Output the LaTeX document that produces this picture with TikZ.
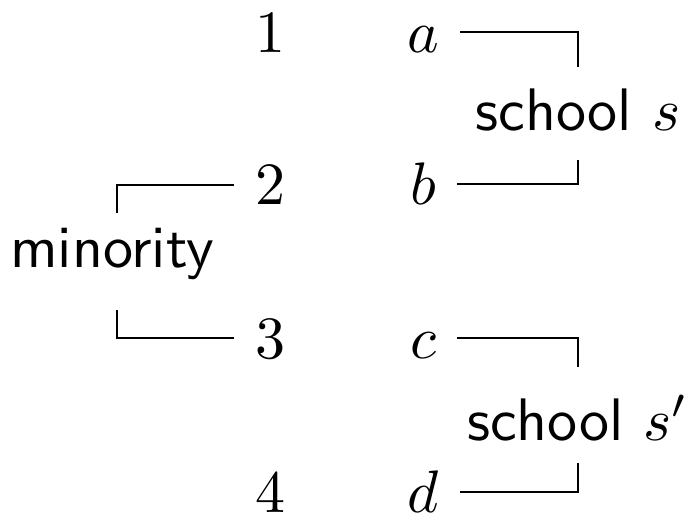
\documentclass[tikz,border=0pt]{standalone}
\begin{document}
\begin{tikzpicture}[x=1pt,y=-1pt,
  lab/.style={scale=6, anchor=base},
  conn/.style={line width=2pt, line cap=butt, line join=miter}]
\useasboundingbox (0,0) rectangle (688,517);
% numbers
\node[lab] (n1) at (270,52) {$1$};
\node[lab] (n2) at (270,204) {$2$};
\node[lab] (n3) at (270,358) {$3$};
\node[lab] (n4) at (270,512) {$4$};
% letters
\node[lab] (a) at (423,52) {$a$};
\node[lab] (b) at (423,204) {$b$};
\node[lab] (c) at (423,358) {$c$};
\node[lab] (d) at (423,512) {$d$};
% group labels
\node[lab] (s1) at (578,130) {\textsf{school} $s$};
\node[lab] (s2) at (578,440) {\textsf{school} $s'$};
\node[lab] (mi) at (112,267) {\textsf{minority}};
% corner coordinates
\coordinate (ka) at (578,32);  \coordinate (ka2) at (578,67);
\coordinate (kb) at (578,184); \coordinate (kb2) at (578,160);
\coordinate (kc) at (578,338); \coordinate (kc2) at (578,367);
\coordinate (kd) at (578,492); \coordinate (kd2) at (578,463);
\coordinate (m2) at (117,185); \coordinate (m22) at (117,213);
\coordinate (m3) at (117,338); \coordinate (m32) at (117,310);
% connectors
\draw[conn] (a.east |- ka) -- (ka) -- (ka2);
\draw[conn] (b.east |- kb) -- (kb) -- (kb2);
\draw[conn] (c.east |- kc) -- (kc) -- (kc2);
\draw[conn] (d.east |- kd) -- (kd) -- (kd2);
\draw[conn] (n2.west |- m2) -- (m2) -- (m22);
\draw[conn] (n3.west |- m3) -- (m3) -- (m32);
\end{tikzpicture}
\end{document}
